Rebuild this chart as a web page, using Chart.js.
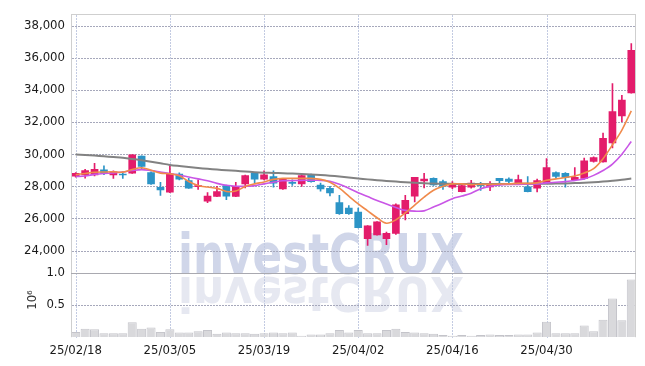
<!DOCTYPE html>
<html>
<head>
<meta charset="utf-8">
<script src="https://cdn.jsdelivr.net/npm/chart.js@4.4.1/dist/chart.umd.min.js"></script>
<style>
  html, body { margin: 0; padding: 0; background: #fff; }
  #wrap { width: 645px; height: 366px; position: relative; }
</style>
</head>
<body>
<div id="wrap"><canvas id="grafico"></canvas></div>
<script>
const dias = [
  '25/02/18', '25/02/19', '25/02/20', '25/02/21', '25/02/24', '25/02/25', '25/02/26', '25/02/27', '25/02/28', '25/03/04',
  '25/03/05', '25/03/06', '25/03/07', '25/03/10', '25/03/11', '25/03/12', '25/03/13', '25/03/14', '25/03/17', '25/03/18',
  '25/03/19', '25/03/20', '25/03/21', '25/03/24', '25/03/25', '25/03/26', '25/03/27', '25/03/28', '25/03/31', '25/04/01',
  '25/04/02', '25/04/03', '25/04/04', '25/04/07', '25/04/08', '25/04/09', '25/04/10', '25/04/11', '25/04/14', '25/04/15',
  '25/04/16', '25/04/17', '25/04/18', '25/04/21', '25/04/22', '25/04/23', '25/04/24', '25/04/25', '25/04/28', '25/04/29',
  '25/04/30', '25/05/02', '25/05/07', '25/05/08', '25/05/09', '25/05/12', '25/05/13', '25/05/14', '25/05/15', '25/05/16'
];

const abertura = [
  28630, 28700, 28700, 29020, 28700, 28740, 28820, 29880, 28860, 27940,
  27630, 28760, 28350, 27980, 27080, 27370, 28040, 27370, 28140, 28820,
  28450, 28610, 27840, 28220, 28140, 28720, 28080, 27880, 26980, 26650,
  26400, 24730, 24970, 24730, 25070, 26300, 27390, 28330, 28490, 28290,
  27940, 27670, 27940, 28140, 27960, 28490, 28450, 28200, 27960, 27880,
  28200, 28860, 28800, 28410, 28490, 29550, 29520, 30700, 32380, 33810
];
const maxima = [
  28860, 29060, 29430, 29270, 28960, 28900, 29980, 29900, 28900, 28250,
  29270, 28830, 28490, 28400, 27600, 28000, 28080, 28250, 28700, 28850,
  28960, 28960, 28500, 28400, 28700, 28760, 28200, 28000, 27430, 26800,
  26650, 25560, 25800, 25150, 26900, 27430, 28560, 28800, 28520, 28380,
  28300, 28100, 28370, 28250, 28300, 28500, 28520, 28700, 28600, 28450,
  29720, 28900, 28850, 29170, 29750, 29830, 31320, 34390, 33670, 36880
];
const minimas = [
  28570, 28500, 28650, 28720, 28490, 28490, 28800, 29060, 28120, 27430,
  27600, 28400, 27860, 27800, 26980, 27350, 27170, 27350, 27900, 28200,
  28400, 27950, 27800, 28050, 27990, 28250, 27700, 27400, 26250, 26250,
  25400, 24320, 24950, 24360, 25000, 25900, 27020, 27900, 28050, 27810,
  27850, 27650, 27880, 27740, 27720, 28050, 28100, 28150, 27650, 27650,
  28200, 28500, 27950, 28400, 28450, 29500, 29500, 30390, 32030, 33800
];
const fechamento = [
  28800, 28980, 29060, 28820, 28900, 28700, 29960, 29230, 28140, 27780,
  28760, 28450, 27880, 28030, 27390, 27670, 27390, 28000, 28660, 28450,
  28720, 28200, 28490, 28180, 28660, 28290, 27840, 27590, 26300, 26300,
  25420, 25540, 25790, 25070, 26850, 27120, 28550, 28450, 28080, 28000,
  28140, 28040, 28200, 28040, 28180, 28350, 28310, 28410, 27670, 28350,
  29170, 28610, 28550, 28550, 29580, 29780, 30980, 32650, 33360, 36470
];

// medias moveis
const media5 = [
  28720, 28800, 28870, 28890, 28900, 28880, 29050, 29150, 29000, 28820,
  28780, 28650, 28300, 28050, 27950, 27870, 27680, 27700, 27980, 28150,
  28270, 28430, 28490, 28490, 28490, 28490, 28430, 28250, 27880, 27390,
  26900, 26470, 26040, 25700, 25910, 26340, 26830, 27320, 27750, 28000,
  28150, 28150, 28100, 28120, 28120, 28140, 28150, 28180, 28180, 28210,
  28370, 28460, 28550, 28640, 28830, 29100, 29720, 30580, 31500, 32700
];
const media20 = [
  28610, 28640, 28740, 28800, 28830, 28890, 28980, 29040, 28980, 28890,
  28800, 28690, 28580, 28460, 28340, 28180, 28060, 28000, 28000, 28040,
  28150, 28250, 28340, 28350, 28370, 28370, 28370, 28310, 28120, 27880,
  27600, 27360, 27120, 26900, 26680, 26500, 26450, 26470, 26710, 26960,
  27230, 27390, 27570, 27850, 28000, 28090, 28120, 28120, 28140, 28150,
  28210, 28250, 28290, 28370, 28460, 28680, 28980, 29380, 30000, 30790
];
const media60 = [
  29980, 29950, 29910, 29870, 29820, 29770, 29700, 29620, 29530, 29430,
  29330, 29260, 29200, 29140, 29090, 29040, 29000, 28960, 28920, 28880,
  28850, 28830, 28810, 28790, 28770, 28740, 28700, 28660, 28610, 28550,
  28490, 28430, 28380, 28330, 28290, 28250, 28220, 28190, 28170, 28160,
  28150, 28140, 28140, 28140, 28140, 28140, 28140, 28150, 28150, 28160,
  28160, 28170, 28180, 28200, 28220, 28250, 28290, 28340, 28400, 28480
];

// volume em milhoes (10^6)
const volume = [
  0.08, 0.13, 0.12, 0.06, 0.06, 0.06, 0.23, 0.13, 0.15, 0.08,
  0.12, 0.07, 0.07, 0.09, 0.11, 0.05, 0.07, 0.06, 0.06, 0.05,
  0.06, 0.07, 0.06, 0.07, 0.02, 0.04, 0.04, 0.06, 0.11, 0.07,
  0.11, 0.06, 0.06, 0.11, 0.13, 0.08, 0.07, 0.06, 0.05, 0.03,
  0.02, 0.03, 0.02, 0.03, 0.04, 0.03, 0.03, 0.04, 0.04, 0.07,
  0.24, 0.06, 0.06, 0.06, 0.18, 0.09, 0.27, 0.60, 0.26, 0.90
];

const precoTicks = [24000, 26000, 28000, 30000, 32000, 34000, 36000, 38000];
const volumeTicks = [0.5, 1.0];

const corAlta = '#e31c6b';
const corBaixa = '#2c94c6';
const fonte = '"DejaVu Sans Condensed", "DejaVu Sans", sans-serif';

const coresVela = abertura.map((a, i) => fechamento[i] >= a ? corAlta : corBaixa);

// linha pontilhada feita de pequenos retangulos
function pontilhadoH(ctx, x1, x2, y, passo) {
  for (let x = x1; x < x2; x += passo) ctx.fillRect(x, y, 2, 1);
}
function pontilhadoV(ctx, x, y1, y2, passo) {
  for (let y = y1; y < y2; y += passo) ctx.fillRect(x, y, 1, 2);
}

const moldura = {
  id: 'moldura',
  beforeDatasetsDraw(chart) {
    const ctx = chart.ctx;
    const area = chart.chartArea;
    const sx = chart.scales.x;
    const sy = chart.scales['y'];
    const sv = chart.scales['yv'];
    ctx.save();
    ctx.font = 'bold 55px ' + fonte;
    ctx.textBaseline = 'alphabetic';
    const w = ctx.measureText('investCRUX').width;
    ctx.translate(178, 273);
    ctx.scale(286 / w, 1);
    ctx.fillStyle = 'rgba(196, 204, 228, 0.8)';
    ctx.fillText('investCRUX', 0, 0);
    // reflexo
    ctx.translate(0, 4);
    ctx.scale(1, -0.88);
    ctx.fillStyle = 'rgba(222, 224, 236, 0.75)';
    ctx.fillText('investCRUX', 0, 0);
    ctx.restore();

    // grade
    const left = Math.round(area.left) + 1;
    const right = Math.round(area.right) - 1;
    const linhas = precoTicks.map(v => sy.getPixelForValue(v))
      .concat([sv.getPixelForValue(volumeTicks[0])]);
    ctx.save();
    ctx.fillStyle = '#a6a8bb';
    linhas.forEach(py => pontilhadoH(ctx, left, right, Math.round(py), 3));
    ctx.fillStyle = '#c3cbe2';
    dias.forEach((d, i) => {
      if (i % 10 !== 0) return;
      pontilhadoV(ctx, Math.round(sx.getPixelForValue(i)), Math.round(area.top) + 1, area.bottom, 3);
    });
    ctx.restore();
  },
  afterDraw(chart) {
    const ctx = chart.ctx;
    const area = chart.chartArea;
    const sep = Math.round(chart.scales.yv.getPixelForValue(1));
    ctx.save();
    ctx.fillStyle = '#cfcfcf';
    ctx.fillRect(Math.round(area.left), Math.round(area.top), 1, area.bottom - area.top);
    ctx.fillRect(Math.round(area.left), Math.round(area.top), area.right - area.left, 1);
    ctx.fillRect(Math.round(area.right) - 1, Math.round(area.top), 1, area.bottom - area.top);
    ctx.fillStyle = '#a9a9b0';
    ctx.fillRect(Math.round(area.left), sep, area.right - area.left, 1);
    // rotulo da escala do volume
    ctx.translate(33, 300);
    ctx.rotate(-Math.PI / 2);
    ctx.fillStyle = '#333';
    ctx.font = '13px ' + fonte;
    ctx.textAlign = 'center';
    ctx.textBaseline = 'middle';
    ctx.fillText('10⁶', 0, 0);
    ctx.restore();
  }
};

function criarGrafico() {
  const ctx = document.getElementById('grafico').getContext('2d');
  Chart.defaults.font.family = fonte;

  new Chart(ctx, {
    type: 'bar',
    data: {
      labels: dias,
      datasets: [
        {
          type: 'line', label: 'MA5', data: media5, yAxisID: 'y', order: 0,
          borderColor: '#f08a4b', borderWidth: 1.6, pointRadius: 0, tension: 0.35
        },
        {
          type: 'line', label: 'MA20', data: media20, yAxisID: 'y', order: 0,
          borderColor: '#c956e6', borderWidth: 1.6, pointRadius: 0, tension: 0.35
        },
        {
          type: 'line', label: 'MA60', data: media60, yAxisID: 'y', order: 1,
          borderColor: '#828282', borderWidth: 2, pointRadius: 0, tension: 0.35
        },
        {
          label: 'corpo', data: abertura.map((a, i) => [a, fechamento[i]]), yAxisID: 'y', order: 2,
          backgroundColor: coresVela, barThickness: 7, grouped: false, minBarLength: 1
        },
        {
          label: 'sombra', data: minimas.map((m, i) => [m, maxima[i]]), yAxisID: 'y', order: 3,
          backgroundColor: coresVela, barThickness: 1, grouped: false
        },
        {
          label: 'volume', data: volume, yAxisID: 'yv', order: 4,
          backgroundColor: '#d9d9dc', borderColor: '#c4c4ca', borderWidth: 1,
          barPercentage: 1, categoryPercentage: 0.96, grouped: false
        }
      ]
    },
    options: {
      responsive: true,
      maintainAspectRatio: false,
      animation: false,
      layout: { padding: { top: 9, right: 9, left: 0, bottom: 0 } },
      plugins: { legend: { display: false }, tooltip: { enabled: false } },
      scales: {
        x: {
          type: 'category',
          offset: true,
          grid: { display: false, offset: false, drawTicks: false },
          border: { display: false },
          ticks: {
            autoSkip: false, maxRotation: 0, padding: 6, color: '#1a1a1a',
            font: { size: 13 },
            callback: (v, i) => i % 10 === 0 ? dias[i] : null
          },
          afterFit: (s) => { s.height = 29; }
        },
        y: {
          type: 'linear', position: 'left', stack: 'painel', stackWeight: 4.05, weight: 2,
          min: 22600, max: 38740,
          afterBuildTicks: (s) => { s.ticks = precoTicks.map(v => ({ value: v })); },
          ticks: {
            padding: 6, color: '#1a1a1a', font: { size: 13 },
            callback: (v) => v.toLocaleString('en-US')
          },
          grid: { display: false, drawTicks: false },
          border: { display: false },
          afterFit: (s) => { s.width = 71; }
        },
        yv: {
          type: 'linear', position: 'left', stack: 'painel', stackWeight: 1, weight: 1,
          min: 0, max: 1,
          afterBuildTicks: (s) => { s.ticks = volumeTicks.map(v => ({ value: v })); },
          ticks: {
            padding: 6, color: '#1a1a1a', font: { size: 13 },
            callback: (v) => v.toFixed(1)
          },
          grid: { display: false, drawTicks: false },
          border: { display: false },
          afterFit: (s) => { s.width = 71; }
        }
      }
    },
    plugins: [moldura]
  });
}

document.addEventListener('DOMContentLoaded', criarGrafico);
</script>
</body>
</html>
